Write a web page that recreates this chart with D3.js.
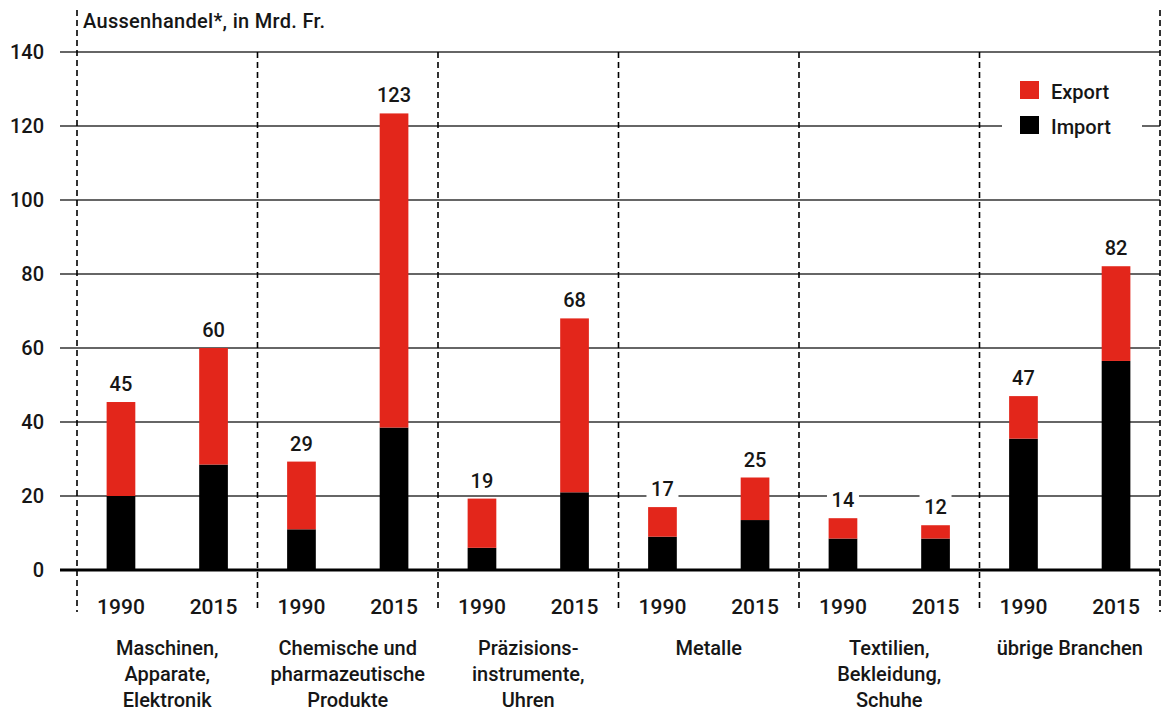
<!DOCTYPE html>
<html><head><meta charset="utf-8">
<script src="https://cdn.jsdelivr.net/npm/d3@7"></script>
<style>
html,body{margin:0;padding:0;background:#fff;}
svg{display:block;}
text{font-family:Roboto,"Liberation Sans",Arial,sans-serif;font-weight:500;fill:#161616;}
</style></head>
<body>
<script>
const categories = [
  ["Maschinen,", "Apparate,", "Elektronik"],
  ["Chemische und", "pharmazeutische", "Produkte"],
  ["Präzisions-", "instrumente,", "Uhren"],
  ["Metalle"],
  ["Textilien,", "Bekleidung,", "Schuhe"],
  ["übrige Branchen"]
];
const years = ["1990", "2015"];
// Import (black, bottom) per category: [1990, 2015]
const importValues = [
  [20, 28.5], [11, 38.5], [6, 21], [9, 13.5], [8.5, 8.5], [35.5, 56.5]
];
// Export (red, top) per category: [1990, 2015]
const exportValues = [
  [25.4, 31.5], [18.3, 84.9], [13.3, 47], [8, 11.5], [5.5, 3.6], [11.5, 25.6]
];
const yTicks = [0, 20, 40, 60, 80, 100, 120, 140];
const title = "Aussenhandel*, in Mrd. Fr.";
const legendItems = [["Export", "#e3261b"], ["Import", "#000000"]];

const W = 1161, H = 711;
const svg = d3.select("body").append("svg").attr("width", W).attr("height", H);

const y = d3.scaleLinear().domain([0, 140]).range([570, 52]);
const xg = d3.scaleBand().domain(d3.range(categories.length)).range([77, 1160]).padding(0);
const xi = d3.scaleBand().domain(years).range([0, xg.bandwidth()]).paddingInner(0.69).paddingOuter(0.32);

// gridlines
const grid = svg.append("g");
grid.selectAll("line").data(yTicks.filter(d => d > 0)).join("line")
  .attr("x1", 60).attr("x2", 1160)
  .attr("y1", d => y(d)).attr("y2", d => y(d))
  .attr("stroke", "#666").attr("stroke-width", 2);

// y tick labels via axis
const yAxis = svg.append("g").attr("transform", "translate(44,0)")
  .call(d3.axisLeft(y).tickValues(yTicks).tickSize(0).tickPadding(0));
yAxis.select(".domain").remove();
yAxis.selectAll("text").attr("font-size", 20).attr("font-weight", "bold")
  .style("font-family", 'Roboto, "Liberation Sans", Arial, sans-serif').attr("fill", "#161616");

// legend background
svg.append("rect").attr("x", 1002).attr("y", 70).attr("width", 140).attr("height", 72).attr("fill", "#fff");

// data rows
const rows = [];
categories.forEach((c, ci) => years.forEach((yr, yi) => {
  rows.push({ci, yr, imp: importValues[ci][yi], exp: exportValues[ci][yi]});
}));

const bw = xi.bandwidth();
const bars = svg.append("g");
bars.selectAll("rect.imp").data(rows).join("rect").attr("class", "imp")
  .attr("x", d => xg(d.ci) + xi(d.yr)).attr("width", bw)
  .attr("y", d => y(d.imp)).attr("height", d => y(0) - y(d.imp))
  .attr("fill", "#000");
bars.selectAll("rect.exp").data(rows).join("rect").attr("class", "exp")
  .attr("x", d => xg(d.ci) + xi(d.yr)).attr("width", bw)
  .attr("y", d => y(d.imp + d.exp)).attr("height", d => y(d.imp) - y(d.imp + d.exp))
  .attr("fill", "#e3261b");

// value labels with white background
const vl = svg.append("g");
rows.forEach(d => {
  const cx = xg(d.ci) + xi(d.yr) + bw / 2;
  const top = y(d.imp + d.exp);
  const t = Math.round(d.imp + d.exp);
  const txt = String(t);
  const tw = txt.length * 10;
  vl.append("rect").attr("x", cx - tw / 2 - 6).attr("y", top - 32).attr("width", tw + 12).attr("height", 24).attr("fill", "#fff");
  vl.append("text").attr("x", cx).attr("y", top - 11).attr("text-anchor", "middle")
    .attr("font-size", 20).text(txt);
});

// zero axis
svg.append("line").attr("x1", 60).attr("x2", 1160).attr("y1", y(0)).attr("y2", y(0))
  .attr("stroke", "#000").attr("stroke-width", 3);

// dashed separators
const nSep = categories.length;
const seps = d3.range(nSep + 1).map(i => i < nSep ? xg(i) : 1160);
svg.append("g").selectAll("line").data(seps).join("line")
  .attr("x1", d => d).attr("x2", d => d)
  .attr("y1", (d, i) => (i === 0 || i === nSep) ? 10 : y(140)).attr("y2", 612)
  .attr("stroke", "#000").attr("stroke-width", 1.6).attr("stroke-dasharray", "6,4");

// year labels
const yl = svg.append("g");
rows.forEach(d => {
  yl.append("text").attr("x", xg(d.ci) + xi(d.yr) + bw / 2).attr("y", 614)
    .attr("text-anchor", "middle").attr("font-size", 21).text(d.yr);
});

// category labels
const cl = svg.append("g");
categories.forEach((lines, ci) => {
  const cx = xg(ci) + xg.bandwidth() / 2;
  lines.forEach((ln, li) => {
    cl.append("text").attr("x", cx).attr("y", 655 + li * 26).attr("text-anchor", "middle")
      .attr("font-size", 20).text(ln);
  });
});

// title
svg.append("text").attr("x", 83).attr("y", 28).attr("font-size", 20).attr("letter-spacing", 0.3).text(title);

// legend
legendItems.forEach((it, i) => {
  svg.append("rect").attr("x", 1020).attr("y", 81 + i * 35).attr("width", 19).attr("height", 18).attr("fill", it[1]);
  svg.append("text").attr("x", 1051).attr("y", 99 + i * 35).attr("font-size", 20).text(it[0]);
});
</script>
</body></html>
